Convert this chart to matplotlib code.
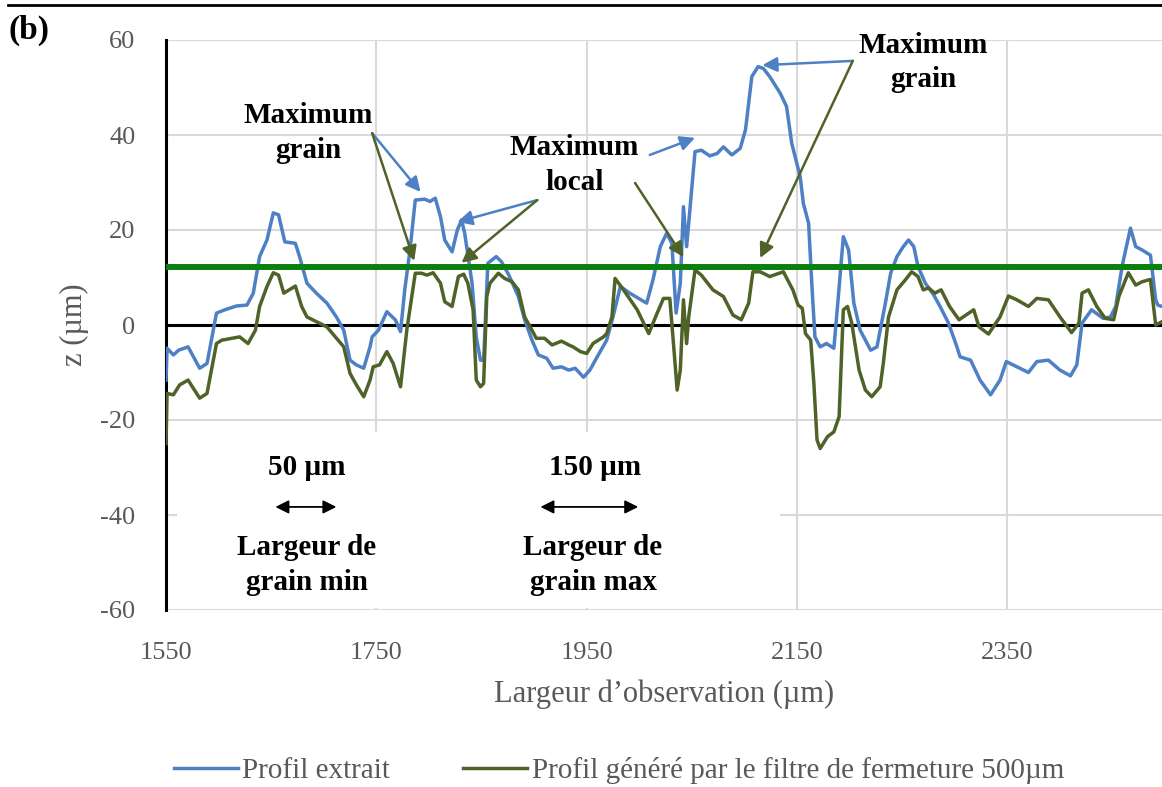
import matplotlib
matplotlib.use("Agg")
import matplotlib.pyplot as plt
from matplotlib.patches import Rectangle
from matplotlib.lines import Line2D

plt.rcParams['font.family'] = ['Liberation Serif', 'DejaVu Serif']
plt.rcParams['axes.unicode_minus'] = False

# Profil extrait (blue)
x_extrait = [1550, 1551, 1557, 1562, 1571, 1582, 1589, 1598, 1606, 1617, 1627, 1633, 1639, 1646,
             1652, 1657, 1663, 1673, 1677, 1684, 1693, 1703, 1712, 1719, 1725, 1731, 1738, 1744,
             1746, 1752, 1760, 1768, 1773, 1777, 1782, 1787, 1796, 1801, 1806, 1811, 1815, 1822,
             1827, 1831, 1834, 1841, 1845, 1849, 1852, 1856, 1864, 1869, 1876, 1885, 1891, 1898,
             1904, 1912, 1918, 1926, 1933, 1939, 1947, 1953, 1960, 1969, 1975, 1982, 1991, 2007,
             2013, 2020, 2026, 2031, 2035, 2039, 2042, 2045, 2053, 2059, 2067, 2074, 2080, 2088,
             2096, 2101, 2107, 2113, 2118, 2124, 2134, 2140, 2145, 2153, 2156, 2161, 2164, 2167,
             2172, 2178, 2185, 2189, 2194, 2199, 2204, 2210, 2220, 2226, 2234, 2239, 2245, 2251,
             2256, 2261, 2265, 2272, 2280, 2286, 2294, 2302, 2305, 2315, 2324, 2334, 2343, 2349,
             2359, 2370, 2378, 2389, 2400, 2410, 2416, 2421, 2430, 2441, 2448, 2453, 2459, 2467,
             2472, 2478, 2486, 2491, 2493, 2497]
z_extrait = [-11.6, -4.9, -6.3, -5.3, -4.6, -9.1, -8.1, 2.5, 3.2, 4.0, 4.2, 6.7, 14.4, 17.9,
             23.6, 23.2, 17.5, 17.2, 14.4, 8.8, 6.7, 4.6, 1.7, -1.1, -7.4, -8.4, -9.1, -4.6,
             -2.5, -1.1, 2.8, 1.1, -1.4, 7.4, 15.8, 26.3, 26.5, 26.0, 26.7, 22.8, 17.9, 15.4,
             20.0, 22.1, 19.3, 8.8, -2.5, -7.4, -7.4, 13.0, 14.4, 13.3, 10.5, 6.0, 1.1, -3.2,
             -6.3, -7.0, -9.1, -8.8, -9.5, -9.1, -11.0, -9.5, -6.7, -3.2, 1.7, 8.1, 6.7, 4.6,
             9.5, 16.5, 19.3, 17.2, 2.5, 8.8, 24.9, 16.5, 36.5, 36.8, 35.6, 36.1, 37.5, 35.8,
             37.2, 41.1, 52.3, 54.4, 54.0, 52.3, 48.8, 46.0, 38.2, 31.2, 25.6, 21.4, 8.8, -2.5,
             -4.6, -3.9, -4.9, 5.3, 18.6, 15.8, 4.6, -1.1, -5.3, -4.6, 4.6, 10.9, 14.4, 16.5,
             17.9, 16.5, 12.3, 8.8, 6.3, 3.9, 0.4, -4.6, -6.7, -7.4, -11.6, -14.7, -11.6, -7.7,
             -8.8, -10.0, -7.7, -7.4, -9.5, -10.7, -8.4, 0.4, 3.2, 1.4, 1.7, 3.9, 12.3, 20.4,
             16.5, 15.8, 14.7, 5.3, 4.2, 3.9]

# Profil genere par le filtre de fermeture (green)
x_filtre = [1550, 1551, 1557, 1563, 1571, 1582, 1589, 1598, 1603, 1620, 1628, 1635, 1639, 1646,
            1652, 1657, 1662, 1673, 1679, 1684, 1693, 1703, 1711, 1719, 1725, 1731, 1738, 1744,
            1747, 1753, 1760, 1766, 1773, 1779, 1787, 1793, 1798, 1804, 1811, 1815, 1822, 1828,
            1833, 1837, 1842, 1845, 1849, 1852, 1855, 1858, 1866, 1872, 1879, 1885, 1891, 1898,
            1902, 1910, 1917, 1926, 1933, 1937, 1944, 1950, 1956, 1966, 1969, 1974, 1977, 1985,
            1998, 2009, 2017, 2023, 2029, 2032, 2036, 2039, 2042, 2045, 2047, 2053, 2059, 2070,
            2080, 2089, 2097, 2104, 2108, 2115, 2124, 2137, 2146, 2151, 2155, 2158, 2163, 2166,
            2169, 2172, 2179, 2185, 2190, 2194, 2198, 2202, 2209, 2215, 2221, 2229, 2232, 2237,
            2245, 2253, 2259, 2265, 2270, 2275, 2281, 2287, 2295, 2304, 2318, 2323, 2332, 2343,
            2351, 2359, 2370, 2378, 2389, 2400, 2411, 2418, 2421, 2427, 2435, 2443, 2451, 2456,
            2465, 2472, 2478, 2486, 2491, 2497]
z_filtre = [-25.0, -14.4, -14.7, -12.6, -11.6, -15.4, -14.4, -3.9, -3.2, -2.5, -3.9, -1.1, 3.9, 8.1,
            11.0, 10.5, 6.7, 8.2, 3.9, 1.7, 0.7, -0.4, -2.5, -4.6, -10.2, -12.6, -15.1, -11.6,
            -8.8, -8.4, -5.6, -8.1, -13.0, -1.0, 10.9, 10.9, 10.5, 11.0, 8.8, 4.9, 3.9, 10.2,
            10.7, 8.8, 3.2, -11.6, -13.0, -12.3, 6.0, 8.8, 10.9, 9.8, 9.1, 7.4, 1.7, -1.1,
            -2.8, -2.8, -4.2, -3.4, -4.2, -4.6, -5.6, -6.0, -3.9, -2.5, -1.8, 1.7, 9.8, 7.4,
            3.2, -1.8, 2.5, 5.6, 5.6, -2.5, -13.7, -9.5, 5.3, -3.9, 1.7, 11.6, 10.5, 7.4,
            6.0, 2.1, 1.1, 4.6, 11.2, 11.2, 10.2, 11.2, 7.4, 4.2, 3.5, -1.8, -3.2, -12.3,
            -24.2, -26.0, -23.5, -22.5, -19.3, 3.2, 3.9, 0.4, -9.5, -13.7, -15.1, -13.0, -8.1, 1.7,
            7.4, 9.5, 11.2, 10.2, 7.4, 7.8, 6.7, 7.4, 3.9, 1.1, 3.2, -0.4, -1.9, 1.7,
            6.1, 5.3, 3.9, 5.6, 5.3, 1.7, -1.6, 0.4, 6.7, 7.4, 3.9, 1.4, 1.1, 6.0,
            11.0, 8.4, 9.1, 9.6, 0.0, 0.7]

seuil = 12.2
x_ticks = [1550, 1750, 1950, 2150, 2350]
y_ticks = [-60, -40, -20, 0, 20, 40, 60]

blue = '#4d80c4'
olive = '#4f6228'
grey = '#595959'

W, H = 1162, 787
fig = plt.figure(figsize=(W / 100, H / 100), dpi=100)
ax = fig.add_axes([166 / W, 1 - 610 / H, (W - 166) / W, 570 / H])

ax.set_xlim(1550, 2497)
ax.set_ylim(-60, 60)
ax.set_xticks(x_ticks)
ax.set_yticks(y_ticks)
ax.set_axisbelow(True)
ax.grid(True, color='#d9d9d9', lw=1.5)
ax.tick_params(length=0, labelsize=19, colors=grey)
ax.tick_params(axis='x', pad=23)
ax.tick_params(axis='y', pad=22)
for s in ['top', 'right', 'bottom']:
    ax.spines[s].set_visible(False)
ax.spines['left'].set_linewidth(2.2)
ax.spines['left'].set_color('black')

# white text box hiding the grid
ax.add_patch(Rectangle((1560, -59.6), 574, 37.1, facecolor='white', edgecolor='none', zorder=1))

ax.axhline(0, color='black', lw=2.2, zorder=2)
ax.plot(x_extrait, z_extrait, color=blue, lw=2.5, zorder=3, solid_joinstyle='round')
ax.plot(x_filtre, z_filtre, color=olive, lw=2.5, zorder=4, solid_joinstyle='round')
ax.axhline(seuil, color='#0b800f', lw=4.3, zorder=5)

ax.set_xlabel('Largeur d’observation (µm)', fontsize=22, color=grey, labelpad=11)
ax.set_ylabel('z (µm)', fontsize=22, color=grey, labelpad=8)

bold = dict(fontsize=21, fontweight='bold', ha='center', va='center', linespacing=1.35, zorder=6)

def fleche(x0, y0, x1, y1, c):
    ax.annotate('', xy=(x1, y1), xytext=(x0, y0),
                arrowprops=dict(arrowstyle='-|>', color=c, lw=1.8, mutation_scale=22,
                                shrinkA=0, shrinkB=0), zorder=6)

ax.text(1685, 40.4, 'Maximum\ngrain', **bold)
fleche(1746, 40.4, 1792, 28.0, blue)
fleche(1746, 40.4, 1786, 13.5, olive)

ax.text(1938, 33.7, 'Maximum\nlocal', **bold)
fleche(1903, 26.3, 1827, 21.7, blue)
fleche(1903, 26.3, 1831, 13.1, olive)
fleche(2010, 35.8, 2053, 39.4, blue)
fleche(1996, 29.9, 2042, 14.3, olive)

ax.text(2270, 55.2, 'Maximum\ngrain', **bold)
fleche(2203, 55.6, 2117, 54.7, blue)
fleche(2203, 55.6, 2115, 14.1, olive)

# grain width text box
ax.text(1684, -30.1, '50 µm', **bold)
ax.annotate('', xy=(1712, -38.3), xytext=(1654, -38.3),
            arrowprops=dict(arrowstyle='<|-|>', color='black', lw=1.3, mutation_scale=20,
                            shrinkA=0, shrinkB=0), zorder=6)
ax.text(1684, -50.5, 'Largeur de\ngrain min', **bold)
ax.text(1958, -30.1, '150 µm', **bold)
ax.annotate('', xy=(1999, -38.3), xytext=(1906, -38.3),
            arrowprops=dict(arrowstyle='<|-|>', color='black', lw=1.3, mutation_scale=20,
                            shrinkA=0, shrinkB=0), zorder=6)
ax.text(1956, -50.5, 'Largeur de\ngrain max', **bold)

# frame line and panel label
fig.add_artist(Line2D([8 / W, 1], [1 - 5 / H, 1 - 5 / H], color='black', lw=2))
fig.text(9 / W, 1 - 30 / H, '(b)', fontsize=24, fontweight='bold', va='center', ha='left')

handles = [Line2D([], [], color=blue, lw=2.5), Line2D([], [], color=olive, lw=2.5)]
leg = fig.legend(handles, ['Profil extrait', 'Profil généré par le filtre de fermeture 500µm'],
                 loc='center', bbox_to_anchor=(619 / W, 1 - 771 / H), ncol=2, frameon=False,
                 fontsize=21, handlelength=2.2, handletextpad=0.15, columnspacing=2.5)
for t in leg.get_texts():
    t.set_color(grey)

fig.savefig('out.png', dpi=100, facecolor='white')
